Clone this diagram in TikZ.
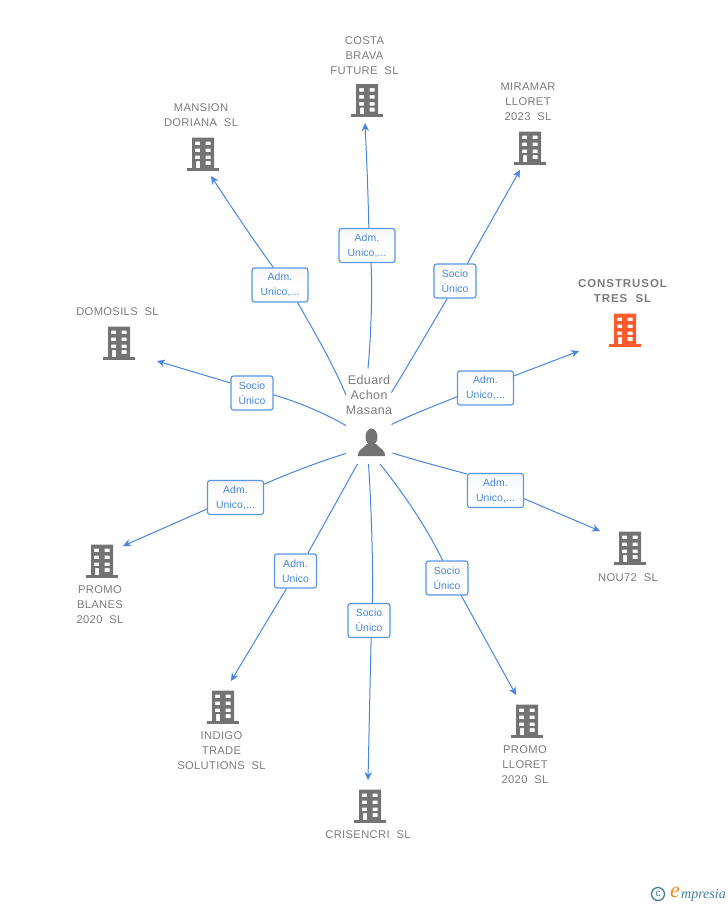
\documentclass[tikz,border=0pt]{standalone}
\usepackage{fontspec}
\setmainfont{Liberation Sans}
\newfontfamily\logofont{Liberation Serif}
\usetikzlibrary{arrows.meta}
\definecolor{linkblue}{HTML}{4686E2}
\definecolor{boxblue}{HTML}{5B95E5}
\definecolor{namegrey}{HTML}{7C7C7C}
\definecolor{icongrey}{HTML}{737373}
\definecolor{hotred}{HTML}{FF5A2B}
\definecolor{logoblue}{HTML}{3F7F9F}
\definecolor{logoorange}{HTML}{F08A1E}
\tikzset{
	pics/building/.style={code={
		\fill[#1, even odd rule] (-11,-16.5) rectangle (11,14) (-8,-12.5) rectangle (-3,-9) (2.5,-12.5) rectangle (7.5,-9) (-8,-5.5) rectangle (-3,-2) (2.5,-5.5) rectangle (7.5,-2) (-8,1.5) rectangle (-3,5) (2.5,1.5) rectangle (7.5,5) (-7,7) rectangle (-3,14) (2.5,7) rectangle (7.5,11);
		\fill[#1] (-16,13.5) rectangle (16,16.5);
	}},
	company/.style={align=center, text=namegrey, font=\fontsize{11.2}{15}\selectfont\addfontfeature{LetterSpace=3}, inner sep=0pt},
	role/.style={draw=boxblue, top color=black!3, bottom color=white, middle color=white, rounded corners=2.5pt, line width=1.2pt, text=linkblue, align=center, font=\fontsize{10.4}{15}\selectfont\addfontfeature{LetterSpace=1}, minimum height=34pt, inner sep=0pt},
	wide/.style={role, minimum width=56pt},
	narrow/.style={role, minimum width=42pt},
	link/.style={draw=linkblue, line width=1pt},
	arrowlink/.style={link, -{Stealth[length=8pt,width=7.5pt]}}
}
\begin{document}
\begin{tikzpicture}[x=1pt,y=-1pt]
	\useasboundingbox (0,0) rectangle (728,905);

	% person in the middle
	\node[align=center, text=namegrey, font=\fontsize{12.5}{15}\selectfont\addfontfeature{LetterSpace=3}, inner sep=0pt] (eduard) at (369,395) {Eduard\\Achon\\Masana};
	\fill[icongrey] (371.5,437) ellipse (6 and 8.5);
	\fill[icongrey] (358,456) .. controls (358,449) and (363,449) .. (367,444) -- (376,444) .. controls (380,449) and (385,449) .. (385,456) -- cycle;

	% companies
	\node[company] (costa) at (364.5,55.5) {COSTA\\BRAVA\\FUTURE\ \ SL};
	\node[company] (mansion) at (201,115.5) {MANSION\\DORIANA\ \ SL};
	\node[company] (miramar) at (528,102) {MIRAMAR\\LLORET\\2023\ \ SL};
	\node[company, font=\fontsize{11.5}{15}\selectfont\bfseries\addfontfeature{LetterSpace=8}] (construsol) at (622.5,291.5) {CONSTRUSOL\\TRES\ \ SL};
	\node[company] (domosils) at (117.5,312) {DOMOSILS\ \ SL};
	\node[company] (nou) at (628,578) {NOU72\ \ SL};
	\node[company] (blanes) at (100,605) {PROMO\\BLANES\\2020\ \ SL};
	\node[company] (indigo) at (221.5,751) {INDIGO\\TRADE\\SOLUTIONS\ \ SL};
	\node[company] (crisencri) at (368,835) {CRISENCRI\ \ SL};
	\node[company] (lloret) at (525,765) {PROMO\\LLORET\\2020\ \ SL};

	\pic at (367,100.5) {building=icongrey};
	\pic at (203,154) {building=icongrey};
	\pic at (530,148) {building=icongrey};
	\pic at (625,330) {building=hotred};
	\pic at (119,343) {building=icongrey};
	\pic at (630,548) {building=icongrey};
	\pic at (102,561) {building=icongrey};
	\pic at (223,707) {building=icongrey};
	\pic at (370,806) {building=icongrey};
	\pic at (527,721) {building=icongrey};

	% roles
	\node[wide] (rcosta) at (367,245.5) {Adm.\ \\Unico,...};
	\node[wide] (rmansion) at (280,285) {Adm.\ \\Unico,...};
	\node[narrow] (rmiramar) at (455,281) {Socio\\Único};
	\node[wide] (rconstrusol) at (485.5,388) {Adm.\ \\Unico,...};
	\node[narrow] (rdomosils) at (252,393) {Socio\\Único};
	\node[wide] (rnou) at (495.5,490.5) {Adm.\ \\Unico,...};
	\node[wide] (rblanes) at (235.5,497.5) {Adm.\ \\Unico,...};
	\node[narrow] (rindigo) at (295.5,571) {Adm.\ \\Unico};
	\node[narrow] (rcrisencri) at (369,620.5) {Socio\\Único};
	\node[narrow] (rlloret) at (447,578) {Socio\\Único};

	% ends of the lines
	\coordinate (scosta) at (368,368.5);
	\coordinate (smansion) at (346,395);
	\coordinate (smiramar) at (391.5,392.5);
	\coordinate (sconstrusol) at (391.5,424.5);
	\coordinate (sdomosils) at (346,425.5);
	\coordinate (snou) at (392.5,453);
	\coordinate (sblanes) at (346,453.5);
	\coordinate (sindigo) at (357.5,464);
	\coordinate (scrisencri) at (368.5,464);
	\coordinate (slloret) at (380,464);

	\coordinate (acosta) at (365,123);
	\coordinate (amansion) at (211,176);
	\coordinate (amiramar) at (520,170);
	\coordinate (aconstrusol) at (579,351);
	\coordinate (adomosils) at (157,361);
	\coordinate (anou) at (600,531);
	\coordinate (ablanes) at (123,546);
	\coordinate (aindigo) at (231,681);
	\coordinate (acrisencri) at (368,780);
	\coordinate (alloret) at (516,695);

	% connectors
	\draw[link] (scosta) .. controls (371,335) and (372.5,295) .. (rcosta.-77);
	\draw[arrowlink] (rcosta.84) .. controls (368,190) and (366.5,155) .. (acosta);
	\draw[link] (smansion) .. controls (332,362) and (315,333) .. (rmansion.-45.5);
	\draw[arrowlink] (rmansion.111.5) .. controls (252,238) and (230,205) .. (amansion);
	\draw[link] (smiramar) .. controls (410,362) and (430,328) .. (rmiramar.-114.4);
	\draw[arrowlink] (rmiramar.55.5) -- (amiramar);
	\draw[link] (sconstrusol) .. controls (415,413) and (437,405) .. (rconstrusol.197.3);
	\draw[arrowlink] (rconstrusol.23.7) -- (aconstrusol);
	\draw[link] (sdomosils) .. controls (322,412) and (298,402) .. (rdomosils.-5.4);
	\draw[arrowlink] (rdomosils.155.2) -- (adomosils);
	\draw[link] (snou) .. controls (418,461) and (445,468) .. (rnou.150);
	\draw[arrowlink] (rnou.-16.3) -- (anou);
	\draw[link] (sblanes) .. controls (318,462) and (290,473) .. (rblanes.25.7);
	\draw[arrowlink] (rblanes.202.9) -- (ablanes);
	\draw[link] (sindigo) -- (rindigo.55.2);
	\draw[arrowlink] (rindigo.-117.4) -- (aindigo);
	\draw[link] (scrisencri) .. controls (371.5,510) and (373,560) .. (rcrisencri.79);
	\draw[arrowlink] (rcrisencri.-83.3) .. controls (370,685) and (369,735) .. (acrisencri);
	\draw[link] (slloret) .. controls (405,495) and (428,530) .. (rlloret.104.2);
	\draw[arrowlink] (rlloret.-51.1) -- (alloret);

	% logo
	\node[draw=logoblue, circle, line width=1.3pt, minimum size=13pt, inner sep=0pt, text=logoblue, font=\fontsize{10}{10}\selectfont] (copy) at (658,894) {c};
	\node[anchor=west, inner sep=0pt, text=logoorange, font=\fontsize{22}{22}\selectfont\logofont\itshape] (elogo) at (670,892) {e};
	\node[anchor=west, inner sep=0pt, text=logoblue, font=\fontsize{14}{14}\selectfont\logofont\itshape] (wordlogo) at (681,895) {mpresia};
\end{tikzpicture}
\end{document}
